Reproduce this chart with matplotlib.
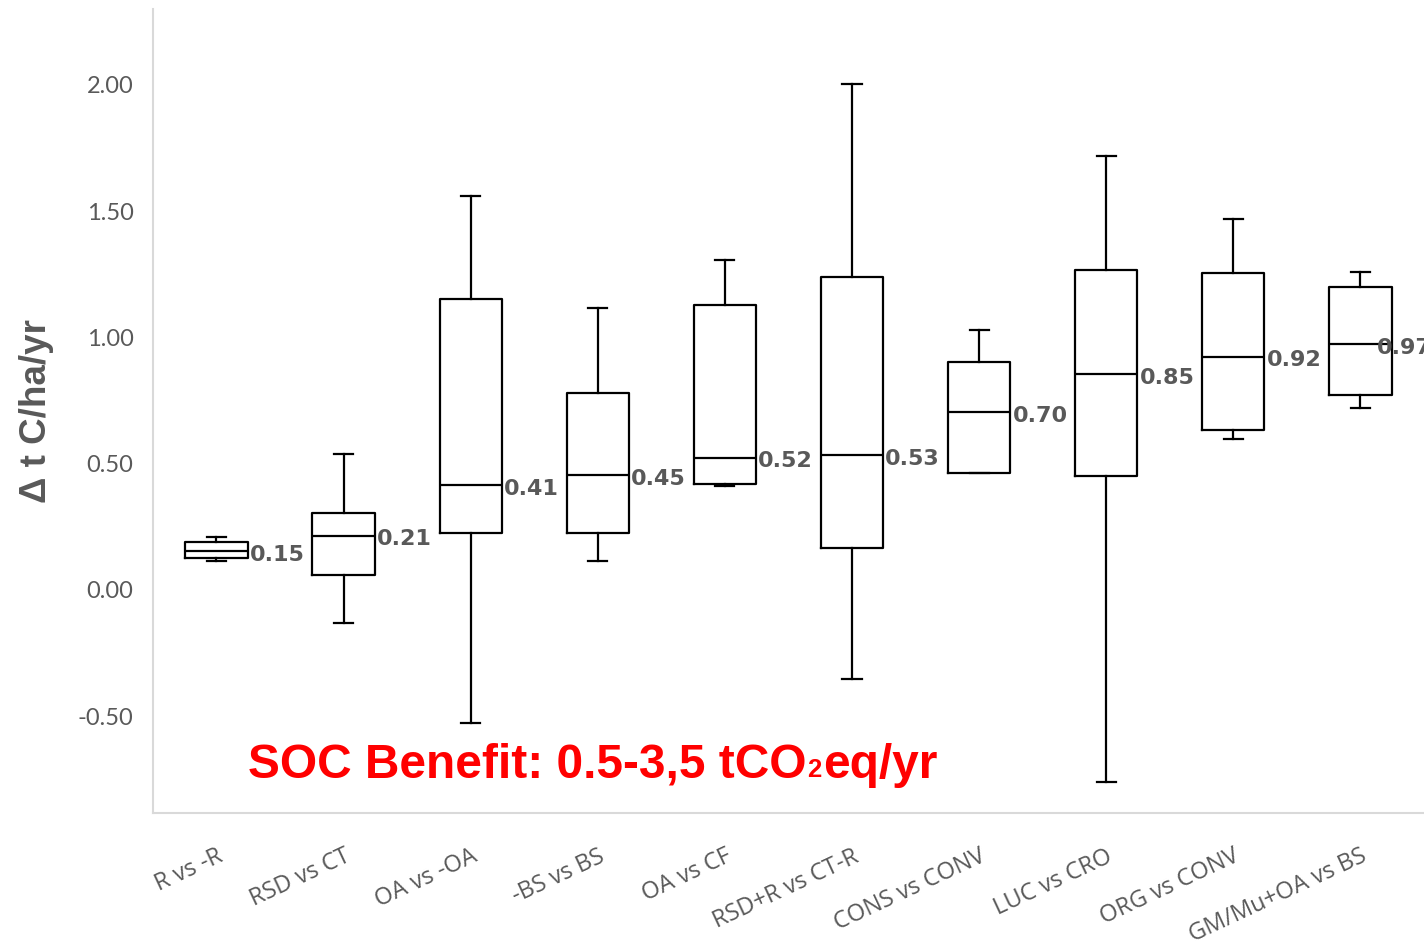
import matplotlib.pyplot as plt

# data
categories = ['R vs -R', 'RSD vs CT', 'OA vs -OA', '-BS vs BS', 'OA vs CF',
              'RSD+R vs CT-R', 'CONS vs CONV', 'LUC vs CRO', 'ORG vs CONV',
              'GM/Mu+OA vs BS']
whisker_low = [0.111, -0.135, -0.53, 0.111, 0.408, -0.356, 0.459, -0.764, 0.594, 0.717]
box_low = [0.123, 0.055, 0.222, 0.222, 0.416, 0.162, 0.459, 0.448, 0.63, 0.768]
medians = [0.15, 0.21, 0.41, 0.45, 0.52, 0.53, 0.70, 0.85, 0.92, 0.97]
box_high = [0.186, 0.30, 1.148, 0.776, 1.125, 1.236, 0.899, 1.263, 1.251, 1.196]
whisker_high = [0.206, 0.535, 1.556, 1.113, 1.303, 2.00, 1.026, 1.715, 1.465, 1.255]
y_ticks = [-0.50, 0.00, 0.50, 1.00, 1.50, 2.00]

gray = '#595959'
red = '#ff0000'

fig = plt.figure(figsize=(14.24, 9.53), dpi=100)
ax = fig.add_axes([0.1074, 0.1459, 0.8926, 0.8436])

stats = []
for i in range(len(categories)):
    stats.append({'whislo': whisker_low[i], 'q1': box_low[i], 'med': medians[i],
                  'q3': box_high[i], 'whishi': whisker_high[i], 'fliers': []})

line = dict(color='black', linewidth=1.6)
ax.bxp(stats, positions=range(len(categories)), widths=0.49, capwidths=0.15,
       boxprops=line, whiskerprops=line, capprops=line, medianprops=line,
       showfliers=False, manage_ticks=False)

# median labels
for i, m in enumerate(medians):
    dx = 0.262 if i < len(medians) - 1 else 0.13
    ax.text(i + dx, m - 0.01, '%.2f' % m, ha='left', va='center',
            fontsize=16, fontweight='bold', color=gray, family='DejaVu Sans')

ax.set_xlim(-0.5, 9.5)
ax.set_ylim(-0.887, 2.297)
ax.set_yticks(y_ticks)
ax.set_yticklabels(['%.2f' % v for v in y_ticks], family='Lato', fontsize=17, color=gray)
ax.set_xticks(range(len(categories)))
ax.set_xticklabels(categories, rotation=25, ha='right', rotation_mode='anchor',
                   family='Open Sans', fontsize=17, color=gray)
ax.tick_params(axis='both', length=0)
ax.tick_params(axis='y', pad=14)
ax.tick_params(axis='x', pad=22)

for s in ['top', 'right']:
    ax.spines[s].set_visible(False)
for s in ['left', 'bottom']:
    ax.spines[s].set_color('#d9d9d9')
    ax.spines[s].set_linewidth(1.5)

fig.text(0.013, 0.569, 'Δ t C/ha/yr', rotation=90, ha='left', va='center',
         family='Liberation Sans', fontweight='bold', fontsize=26.5, color=gray)

# red note with a small subscript 2, laid out piece by piece
font = dict(family='Liberation Sans', fontweight='bold', color=red)
x0, base = 248, 953 - 778
t1 = fig.text(x0 / 1424, base / 953, 'SOC Benefit: 0.5-3,5 tCO', ha='left',
              va='baseline', fontsize=34.5, **font)
fig.canvas.draw()
r = fig.canvas.get_renderer()
x1 = t1.get_window_extent(r).x1
t2 = fig.text((x1 + 1) / 1424, (base + 1) / 953, '2', ha='left', va='baseline',
              fontsize=18.5, **font)
x2 = t2.get_window_extent(r).x1
fig.text((x2 + 1) / 1424, base / 953, 'eq/yr', ha='left', va='baseline',
         fontsize=34.5, **font)

fig.savefig('out.png', dpi=100)
